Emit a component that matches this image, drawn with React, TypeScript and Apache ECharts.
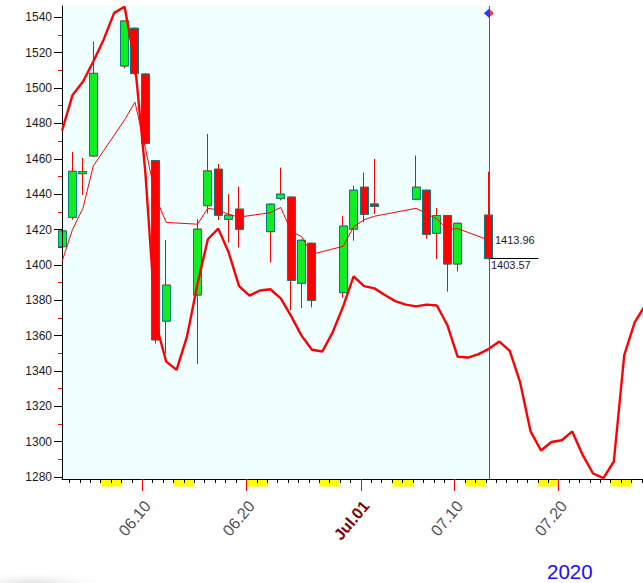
import React, { useEffect, useRef } from "react";
import * as echarts from "echarts";

// ---------- data ----------
const TRADE_DATES = [
  "2020-06-02", "2020-06-03", "2020-06-04", "2020-06-05",
  "2020-06-08", "2020-06-09", "2020-06-10", "2020-06-11", "2020-06-12",
  "2020-06-15", "2020-06-16", "2020-06-17", "2020-06-18", "2020-06-19",
  "2020-06-22", "2020-06-23", "2020-06-24", "2020-06-25", "2020-06-26",
  "2020-06-29", "2020-06-30", "2020-07-01", "2020-07-02",
  "2020-07-06", "2020-07-07", "2020-07-08", "2020-07-09", "2020-07-10",
  "2020-07-13",
];
const OPEN = [
  1410.3, 1426.9, 1451.6, 1461.6,
  1512.5, 1533.8, 1507.9, 1458.9, 1368.2,
  1383.0, 1433.5, 1454.1, 1425.8, 1431.5,
  1418.8, 1437.5, 1438.3, 1389.6, 1412.2,
  1384.3, 1420.2, 1443.9, 1434.4,
  1437.1, 1442.2, 1417.9, 1427.9, 1400.5,
  1428.1,
];
const CLOSE = [
  1419.2, 1452.9, 1452.8, 1508.3,
  1537.9, 1508.3, 1468.8, 1357.6, 1388.5,
  1420.2, 1453.1, 1428.1, 1428.1, 1420.2,
  1434.3, 1440.0, 1391.3, 1413.9, 1380.0,
  1421.9, 1442.2, 1428.6, 1433.1,
  1443.9, 1417.3, 1427.9, 1400.5, 1423.5,
  1403.57,
];
const LOW = [
  1409.5, 1425.5, 1439.5, 1461.0,
  1511.2, 1507.5, 1468.2, 1355.5, 1350.0,
  1344.0, 1429.0, 1425.4, 1412.6, 1409.8,
  1401.3, 1436.5, 1374.5, 1375.5, 1376.0,
  1381.5, 1413.7, 1424.1, 1428.8,
  1436.7, 1414.8, 1403.2, 1384.9, 1396.2,
  1403.2,
];
const HIGH = [
  1420.0, 1463.9, 1460.5, 1526.2,
  1538.2, 1534.2, 1508.3, 1459.3, 1414.0,
  1425.8, 1474.0, 1457.0, 1440.0, 1444.2,
  1434.8, 1455.0, 1438.8, 1414.3, 1412.6,
  1427.7, 1444.8, 1452.2, 1459.9,
  1461.8, 1442.6, 1432.2, 1428.3, 1423.9,
  1452.7,
];
// thin red average line (one value per trading day)
const AVG_LINE = [
  1402, 1420, 1432, 1456,
  1482, 1492, 1466, 1438, 1424,
  1423, 1432, 1431, 1428.5, 1427,
  1429.5, 1432.5, 1419, 1416, 1406,
  1410.5, 1421.5, 1425.5, 1427.5,
  1432, 1429, 1426, 1420, 1420.5,
  1413.96,
];
// thick red curve, one value per calendar day from CURVE_START
const CURVE_START = "2020-06-02";
const CURVE = [
  1476, 1496, 1503.6, 1515, 1527.5, 1542.5, 1546,
  1514, 1452, 1367, 1345.3, 1340.6, 1359.5, 1389,
  1414.5, 1420.5, 1407, 1388, 1382.6, 1385.5, 1386.2,
  1381, 1371, 1360, 1352, 1351, 1362, 1376.5,
  1393.5, 1388, 1386.7, 1383, 1379.5, 1377.5, 1376.5,
  1377.5, 1377, 1366, 1348, 1347.6, 1349.5, 1352.5,
  1356.6, 1351.4, 1333.5, 1305.8, 1295, 1299.8, 1300.8,
  1305.8, 1292.5, 1282, 1279.4, 1288.8, 1349, 1367.5,
  1377,
];
const RED_TICK_DATES = ["2020-06-10", "2020-06-20", "2020-07-01", "2020-07-10", "2020-07-20"];
const TICK_LABELS = ["06.10", "06.20", "Jul.01", "07.10", "07.20"];
const MONTH_START_LABEL = "Jul.01";
const Y_LABELS = [1280, 1300, 1320, 1340, 1360, 1380, 1400, 1420, 1440, 1460, 1480, 1500, 1520, 1540];
const Y_MINOR = [1290, 1310, 1330, 1350, 1370, 1390, 1410, 1430, 1450, 1470, 1490, 1510, 1530];
const YEAR_LABEL = "2020";

// ---------- view settings ----------
const FONT = 'Arial, "Liberation Sans", sans-serif';
const X_MIN = 1.29;
const X_MAX = 57.1;
const Y_MIN = 1278.9;
const Y_MAX = 1546.4;
const POINT_OFFSET = 0.3;
const MARKER_Y = 1542.3;

const BASE = Date.UTC(2020, 5, 1);
const dayIndex = (s: string) => {
  const [y, m, d] = s.split("-").map(Number);
  return Math.round((Date.UTC(y, m - 1, d) - BASE) / 86400000);
};
const xOf = (s: string) => dayIndex(s) + POINT_OFFSET;

const DAY_TICKS: number[] = [];
for (let i = Math.ceil(X_MIN); i <= Math.floor(X_MAX); i++) DAY_TICKS.push(i);
const WEEKEND_STARTS: number[] = [];
for (let i = 0; i <= Math.floor(X_MAX); i++) {
  if (new Date(BASE + i * 86400000).getUTCDay() === 6) WEEKEND_STARTS.push(i);
}
const RED_TICKS = RED_TICK_DATES.map(dayIndex);
const LABEL_POS = RED_TICK_DATES.map((d) => dayIndex(d) + 0.5);

export default function App() {
  const ref = useRef<HTMLDivElement>(null);
  useEffect(() => {
    if (!ref.current) return;
    const chart = echarts.init(ref.current, undefined, { renderer: "svg" });
    const last = TRADE_DATES.length - 1;
    const xLast = xOf(TRADE_DATES[last]);
    const curveStart = dayIndex(CURVE_START);

    const labelFor = (v: number) => {
      const idx = LABEL_POS.findIndex((p) => Math.abs(p - v) < 1e-6);
      if (idx < 0) return "";
      const t = TICK_LABELS[idx];
      return t === MONTH_START_LABEL ? `{j|${t}}` : `{d|${t}}`;
    };

    const option: any = {
      animation: false,
      backgroundColor: "#ffffff",
      grid: { left: 62, top: 6, right: 0, bottom: 104, containLabel: false, outerBoundsMode: "none" },
      xAxis: [
        {
          type: "value", min: X_MIN, max: X_MAX, position: "bottom", z: 3,
          axisLine: { show: true, onZero: false, lineStyle: { color: "#000", width: 1 } },
          axisTick: { show: true, length: 4, customValues: DAY_TICKS, lineStyle: { color: "#000", width: 1 } },
          axisLabel: {
            show: true, customValues: LABEL_POS, rotate: 50, margin: 24,
            formatter: (v: number) => labelFor(v),
            rich: {
              d: { fontFamily: FONT, fontSize: 16, color: "#505058" },
              j: { fontFamily: FONT, fontSize: 16, fontWeight: "bold", color: "#800000" },
            },
          },
          splitLine: { show: false },
        },
        {
          type: "value", min: X_MIN, max: X_MAX, position: "bottom", offset: 0, z: 4,
          axisLine: { show: false, onZero: false },
          axisTick: { show: true, length: 12, customValues: RED_TICKS, lineStyle: { color: "#ff0000", width: 1 } },
          axisLabel: { show: false },
          splitLine: { show: false },
        },
      ],
      yAxis: [
        {
          type: "value", min: Y_MIN, max: Y_MAX, position: "left", z: 3,
          axisLine: { show: true, onZero: false, lineStyle: { color: "#000", width: 1 } },
          axisTick: { show: true, length: 8, customValues: Y_LABELS, lineStyle: { color: "#000", width: 1 } },
          axisLabel: {
            show: true, customValues: Y_LABELS, margin: 10, fontFamily: FONT, fontSize: 12, color: "#1a1a1a",
            formatter: (v: number) => String(Math.round(v)),
          },
          splitLine: { show: false },
        },
        {
          type: "value", min: Y_MIN, max: Y_MAX, position: "left", offset: 0, z: 4,
          axisLine: { show: false, onZero: false },
          axisTick: { show: true, length: 4, customValues: Y_MINOR, lineStyle: { color: "#ff0000", width: 1 } },
          axisLabel: { show: false },
          splitLine: { show: false },
        },
      ],
      graphic: [
        {
          type: "rect", left: 0, top: 567, shape: { width: 110, height: 16 }, silent: true, z: 0,
          style: {
            fill: new echarts.graphic.RadialGradient(0.3, 1, 0.75, [
              { offset: 0, color: "rgba(200,200,200,0.55)" },
              { offset: 1, color: "rgba(255,255,255,0)" },
            ]),
          },
        },
        {
          type: "text", left: 547, top: 561, silent: true,
          style: { text: YEAR_LABEL, fontFamily: FONT, fontSize: 20.5, fill: "#1a0dff" },
        },
      ],
      series: [
        {
          type: "custom", name: "weekend", silent: true, z: 1, clip: false,
          xAxisIndex: 0, yAxisIndex: 0,
          data: WEEKEND_STARTS.map((d) => [d, Y_MIN]),
          encode: { x: 0, y: 1 },
          renderItem: (_p: any, api: any) => {
            const a = api.coord([api.value(0), api.value(1)]);
            const b = api.coord([api.value(0) + 2, api.value(1)]);
            return {
              type: "rect",
              shape: { x: a[0], y: a[1], width: b[0] - a[0], height: 7.5 },
              style: { fill: "#ffff00" },
            };
          },
        },
        {
          type: "candlestick", name: "wick", clip: false, barWidth: 8.5,
          data: TRADE_DATES.map((d, i) => [xOf(d), OPEN[i], CLOSE[i], LOW[i], HIGH[i]]),
          encode: { x: 0, y: [1, 2, 3, 4] },
          itemStyle: { color: "#10ee22", color0: "#ff0000", borderColor: "#ff0000", borderColor0: "#ff0000", borderWidth: 1 },
        },
        {
          type: "candlestick", name: "body", clip: false, barWidth: 8.5,
          data: TRADE_DATES.map((d, i) => [
            xOf(d), OPEN[i], CLOSE[i], Math.min(OPEN[i], CLOSE[i]), Math.max(OPEN[i], CLOSE[i]),
          ]),
          encode: { x: 0, y: [1, 2, 3, 4] },
          itemStyle: { color: "#10ee22", color0: "#ff0000", borderColor: "#008080", borderColor0: "#008080", borderWidth: 1 },
        },
        {
          type: "line", name: "curve", showSymbol: false, symbol: "none",
          data: CURVE.map((v, i) => [curveStart + i + POINT_OFFSET, v]),
          lineStyle: { color: "#ff0000", width: 2.4 },
          markArea: {
            silent: true, z: 1,
            itemStyle: { color: "#f0ffff" },
            data: [[{ xAxis: X_MIN }, { xAxis: xLast }]],
          },
          markLine: {
            silent: true, symbol: ["none", "none"],
            lineStyle: { color: "#000000", width: 1, type: "solid" },
            label: {
              show: true, position: "insideStartBottom", distance: [2, 1],
              formatter: CLOSE[last].toFixed(2), fontFamily: FONT, fontSize: 11, color: "#221a33",
            },
            data: [[{ coord: [xLast, CLOSE[last]] }, { coord: [xLast + 4.75, CLOSE[last]] }]],
          },
        },
        {
          type: "line", name: "avg", showSymbol: false, symbol: "none",
          data: TRADE_DATES.map((d, i) => [xOf(d), AVG_LINE[i]]),
          lineStyle: { color: "#ff0000", width: 1 },
          endLabel: {
            show: true, distance: 6,
            formatter: () => AVG_LINE[last].toFixed(2),
            fontFamily: FONT, fontSize: 11, color: "#221a33",
          },
          markLine: {
            silent: true, symbol: ["none", "none"], label: { show: false },
            lineStyle: { color: "#008080", width: 1, type: "solid" },
            data: [{ xAxis: xLast }],
          },
        },
        {
          type: "scatter", name: "marker", silent: true, z: 6,
          symbol: "diamond", symbolSize: [10, 9],
          data: [[xLast, MARKER_Y]],
          itemStyle: {
            color: new echarts.graphic.LinearGradient(0, 0, 1, 0, [
              { offset: 0, color: "#0000ff" },
              { offset: 0.5, color: "#0000ff" },
              { offset: 0.5, color: "#ff0000" },
              { offset: 1, color: "#ff0000" },
            ]),
          },
        },
      ],
    };
    chart.setOption(option);
    return () => chart.dispose();
  }, []);
  return (
    <div
      ref={ref}
      style={{ position: "fixed", left: 0, top: 0, width: 643, height: 583, background: "#fff" }}
    />
  );
}
